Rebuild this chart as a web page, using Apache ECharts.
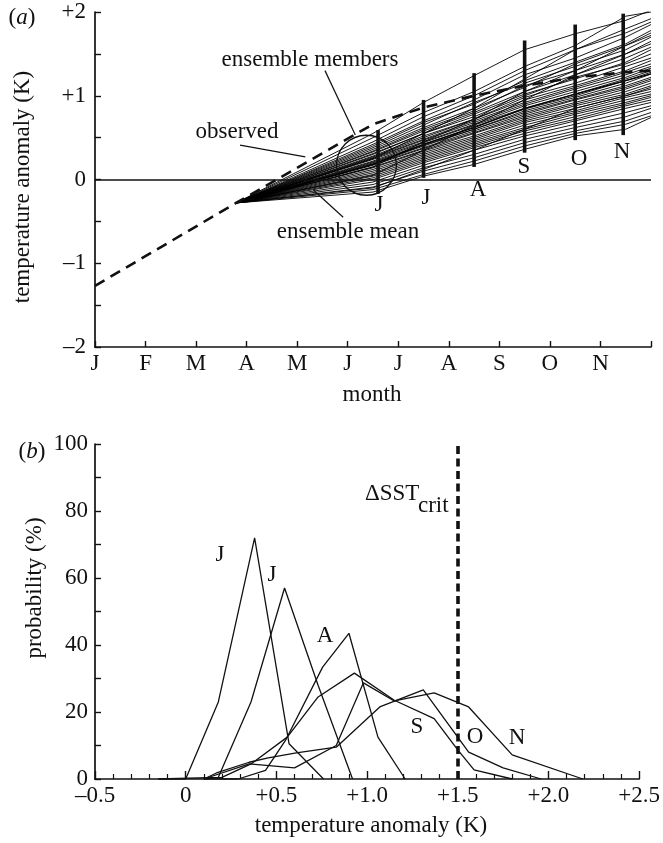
<!DOCTYPE html>
<html>
<head>
<meta charset="utf-8">
<script src="https://cdn.jsdelivr.net/npm/echarts@6/dist/echarts.min.js"></script>
<style>
  html, body { margin: 0; padding: 0; background: #fff; }
  #chart { width: 663px; height: 843px; }
</style>
</head>
<body>
<div id="chart"></div>
<script>
// ---------- panel (a): seasonal forecast plume ----------
const MONTHS = ['J', 'F', 'M', 'A', 'M', 'J', 'J', 'A', 'S', 'O', 'N'];

// observed anomaly (K), x = month index (0 = start of January)
const OBSERVED = [[0, -1.27], [2.79, -0.28], [5.5, 0.66], [6.5, 0.86], [7.5, 1.0],
                  [8.5, 1.12], [9.5, 1.22], [10.5, 1.28], [11, 1.3]];

// forecast initialisation point and the months at which members are stored
const FORECAST_START = [2.79, -0.28];
const FORECAST_MONTHS = [5.5, 6.5, 7.5, 8.5, 9.5, 10.5, 11];

// ensemble members: anomaly at each of FORECAST_MONTHS
const MEMBERS = [
  [0.55, 0.92, 1.24, 1.55, 1.74, 1.90, 2.02],
  [0.50, 0.80, 1.05, 1.35, 1.60, 1.95, 2.00],
  [0.45, 0.75, 1.00, 1.30, 1.55, 1.80, 1.92],
  [0.42, 0.70, 0.95, 1.25, 1.45, 1.70, 1.85],
  [0.40, 0.68, 0.90, 1.18, 1.40, 1.62, 1.78],
  [0.38, 0.65, 0.92, 1.15, 1.35, 1.55, 1.70],
  [0.36, 0.62, 0.85, 1.10, 1.38, 1.60, 1.72],
  [0.34, 0.60, 0.82, 1.12, 1.30, 1.50, 1.62],
  [0.33, 0.58, 0.80, 1.05, 1.25, 1.45, 1.58],
  [0.31, 0.55, 0.78, 1.02, 1.20, 1.40, 1.55],
  [0.30, 0.55, 0.75, 1.00, 1.22, 1.38, 1.50],
  [0.28, 0.52, 0.72, 0.98, 1.15, 1.35, 1.45],
  [0.27, 0.50, 0.72, 0.95, 1.12, 1.30, 1.42],
  [0.26, 0.48, 0.70, 0.92, 1.10, 1.28, 1.38],
  [0.25, 0.47, 0.68, 0.90, 1.08, 1.25, 1.35],
  [0.24, 0.45, 0.66, 0.88, 1.05, 1.22, 1.33],
  [0.22, 0.44, 0.65, 0.85, 1.02, 1.20, 1.30],
  [0.21, 0.42, 0.63, 0.84, 1.00, 1.18, 1.28],
  [0.20, 0.41, 0.60, 0.82, 0.98, 1.15, 1.26],
  [0.19, 0.40, 0.60, 0.80, 0.96, 1.12, 1.22],
  [0.18, 0.38, 0.58, 0.78, 0.95, 1.10, 1.20],
  [0.17, 0.37, 0.56, 0.76, 0.92, 1.08, 1.18],
  [0.15, 0.35, 0.55, 0.74, 0.90, 1.05, 1.15],
  [0.14, 0.34, 0.52, 0.72, 0.88, 1.02, 1.12],
  [0.12, 0.32, 0.50, 0.70, 0.85, 1.00, 1.10],
  [0.10, 0.30, 0.48, 0.68, 0.82, 0.98, 1.05],
  [0.08, 0.28, 0.46, 0.65, 0.80, 0.95, 1.02],
  [0.06, 0.26, 0.44, 0.62, 0.78, 0.92, 1.00],
  [0.04, 0.24, 0.42, 0.60, 0.75, 0.90, 0.98],
  [0.02, 0.22, 0.40, 0.58, 0.72, 0.88, 0.95],
  [0.00, 0.20, 0.38, 0.55, 0.70, 0.85, 0.92],
  [-0.03, 0.17, 0.35, 0.52, 0.66, 0.80, 0.88],
  [-0.06, 0.14, 0.30, 0.48, 0.62, 0.75, 0.85],
  [-0.09, 0.10, 0.26, 0.44, 0.58, 0.70, 0.80],
  [-0.12, 0.06, 0.22, 0.40, 0.55, 0.66, 0.76],
  [-0.15, 0.04, 0.18, 0.36, 0.52, 0.60, 0.74],
  [-0.10, 0.12, 0.35, 0.60, 0.85, 1.00, 1.08],
  [0.05, 0.35, 0.65, 0.95, 1.25, 1.50, 1.65],
  [0.25, 0.55, 0.85, 1.20, 1.55, 1.75, 1.88],
  [0.15, 0.45, 0.72, 1.05, 1.30, 1.60, 1.75]
];

const ENSEMBLE_MEAN = [0.18, 0.42, 0.62, 0.85, 1.02, 1.18, 1.26];

// spread of the ensemble for each target month
const RANGE_POS = [5.6, 6.5, 7.5, 8.5, 9.5, 10.45];
const RANGE_LOW = [-0.17, 0.02, 0.15, 0.32, 0.47, 0.53];
const RANGE_HIGH = [0.59, 0.95, 1.27, 1.66, 1.85, 1.98];
const RANGE_LABELS = ['J', 'J', 'A', 'S', 'O', 'N'];

// highlighted June cluster
const JUNE_CIRCLE = [5.37, 0.17];

// ---------- panel (b): forecast probability distributions ----------
// [anomaly (K), probability (%)]
const PDF_JUN = [[-0.15, 0], [0, 0], [0.18, 23], [0.38, 72], [0.57, 10.5], [0.76, 0]];
const PDF_JUL = [[-0.15, 0], [0.18, 0.5], [0.36, 23], [0.545, 57], [0.73, 28], [0.92, 0]];
const PDF_AUG = [[0.1, 0], [0.29, 0], [0.44, 2.6], [0.55, 11.5], [0.755, 33.4], [0.9, 43.5],
                 [1.06, 12.5], [1.21, 0]];
const PDF_SEP = [[0.1, 0], [0.2, 0.5], [0.36, 4.5], [0.56, 12.5], [0.73, 24.5], [0.93, 31.6],
                 [1.15, 23.5], [1.37, 18], [1.5, 8.7], [1.59, 2.7], [1.8, 0]];
const PDF_OCT = [[0.1, 0], [0.17, 1.8], [0.35, 5], [0.455, 6.3], [0.61, 7.8], [0.83, 9.5],
                 [1.07, 21.5], [1.31, 26.6], [1.56, 8], [1.75, 3.3], [1.96, 0]];
const PDF_NOV = [[0.1, 0], [0.35, 4.5], [0.6, 3.3], [0.83, 10], [0.98, 28.7], [1.15, 23.3],
                 [1.37, 25.7], [1.56, 21.5], [1.8, 7.2], [2.19, 0]];
const SST_CRIT = 1.5;

const INK = '#111';
const SERIF = "'Liberation Serif', 'Times New Roman', serif";
const FS = 23;

function memberLine(vals) {
  return [FORECAST_START].concat(FORECAST_MONTHS.map((m, i) => [m, vals[i]]));
}

function fmtSigned(v, digits) {
  const s = digits ? Math.abs(v).toFixed(digits) : String(Math.abs(v));
  if (Math.abs(v) < 1e-9) return '0';
  return (v > 0 ? '+' : '\u2013') + s;
}

const axisText = { color: INK, fontFamily: SERIF, fontSize: FS };
const axisLine = { onZero: false, lineStyle: { color: INK, width: 1.7 } };

const series = [];

// ensemble members
MEMBERS.forEach((m, i) => {
  series.push({
    name: 'member ' + (i + 1), type: 'line', xAxisIndex: 0, yAxisIndex: 0,
    data: memberLine(m), symbol: 'none', silent: true,
    lineStyle: { color: '#000', width: 0.9 }, z: 2
  });
});

// ensemble mean
series.push({
  name: 'ensemble mean', type: 'line', xAxisIndex: 0, yAxisIndex: 0,
  data: memberLine(ENSEMBLE_MEAN), symbol: 'none', silent: true,
  lineStyle: { color: '#000', width: 1.3 }, z: 3
});

// observed anomaly, zero line and annotation leaders
series.push({
  name: 'observed', type: 'line', xAxisIndex: 0, yAxisIndex: 0,
  data: OBSERVED, symbol: 'none', silent: true,
  lineStyle: { color: INK, width: 2.6, type: [11, 7] }, z: 4,
  markLine: {
    silent: true, symbol: 'none', label: { show: false },
    lineStyle: { color: INK, width: 1.7, type: 'solid' },
    data: [
      [{ coord: [0, 0] }, { coord: [11, 0] }],
      [{ coord: [4.55, 1.30], lineStyle: { width: 1.2 } }, { coord: [5.15, 0.53] }],
      [{ coord: [2.87, 0.41], lineStyle: { width: 1.2 } }, { coord: [4.16, 0.27] }],
      [{ coord: [4.32, -0.125], lineStyle: { width: 1.2 } }, { coord: [4.91, -0.45] }]
    ]
  }
});

// monthly ensemble spread bars
series.push({
  name: 'spread', type: 'custom', xAxisIndex: 0, yAxisIndex: 0, silent: true, z: 5,
  data: RANGE_POS.map((x, i) => [x, RANGE_LOW[i], RANGE_HIGH[i]]),
  encode: { x: 0, y: [1, 2] },
  renderItem: function (params, api) {
    const p1 = api.coord([api.value(0), api.value(1)]);
    const p2 = api.coord([api.value(0), api.value(2)]);
    return { type: 'line', shape: { x1: p1[0], y1: p1[1], x2: p2[0], y2: p2[1] },
             style: { stroke: INK, lineWidth: 3.6 } };
  }
});

// circle around the June cluster
series.push({
  name: 'June cluster', type: 'custom', xAxisIndex: 0, yAxisIndex: 0, silent: true, z: 6,
  data: [JUNE_CIRCLE],
  renderItem: function (params, api) {
    const c = api.coord([api.value(0), api.value(1)]);
    return { type: 'circle', shape: { cx: c[0], cy: c[1], r: 30 },
             style: { fill: 'none', stroke: INK, lineWidth: 1.3 } };
  }
});

// probability distributions
[PDF_JUN, PDF_JUL, PDF_AUG, PDF_SEP, PDF_OCT, PDF_NOV].forEach((d, i) => {
  series.push({
    name: 'pdf ' + RANGE_LABELS[i] + i, type: 'line', xAxisIndex: 1, yAxisIndex: 1,
    data: d, symbol: 'none', silent: true,
    lineStyle: { color: INK, width: 1.3 }, z: 2
  });
});

// critical SST threshold
series.push({
  name: 'threshold', type: 'line', xAxisIndex: 1, yAxisIndex: 1, data: [], silent: true,
  markLine: {
    silent: true, symbol: 'none', label: { show: false },
    lineStyle: { color: INK, width: 3.6, type: [8, 4.5] },
    data: [[{ coord: [SST_CRIT, 0] }, { coord: [SST_CRIT, 100] }]]
  }
});

function txt(text, x, y, extra) {
  return Object.assign({
    type: 'text', x: x, y: y, silent: true,
    style: Object.assign({ text: text, fill: INK, fontFamily: SERIF, fontSize: FS,
                           align: 'center', verticalAlign: 'middle',
                           textAlign: 'center', textVerticalAlign: 'middle' }, extra || {})
  });
}

const panelLabelRich = {
  p: { fontFamily: SERIF, fontSize: FS, fill: INK, color: INK },
  i: { fontFamily: SERIF, fontSize: FS, fontStyle: 'italic', fill: INK, color: INK }
};

const graphics = [
  txt('{p|(}{i|a}{p|)}', 22, 18, { rich: panelLabelRich }),
  txt('{p|(}{i|b}{p|)}', 32, 452, { rich: panelLabelRich }),
  Object.assign(txt('temperature anomaly (K)', 22.5, 187), { rotation: Math.PI / 2 }),
  txt('month', 372, 395),
  Object.assign(txt('probability (%)', 35, 588), { rotation: Math.PI / 2 }),
  txt('temperature anomaly (K)', 371, 826),
  txt('ensemble members', 310, 60),
  txt('observed', 237, 132),
  txt('ensemble mean', 348, 232),
  txt('J', 379, 205), txt('J', 426, 198), txt('A', 478, 190),
  txt('S', 524, 167), txt('O', 579, 159), txt('N', 622, 152),
  txt('J', 220, 555), txt('J', 272, 575), txt('A', 325, 636),
  txt('S', 417, 727), txt('O', 475, 737), txt('N', 517, 738),
  txt('\u0394SST', 365, 494, { align: 'left', textAlign: 'left' }),
  txt('crit', 418, 506, { align: 'left', textAlign: 'left' })
];

const chart = echarts.init(document.getElementById('chart'), null, { renderer: 'canvas' });
chart.setOption({
  animation: false,
  backgroundColor: '#fff',
  grid: [
    { left: 95, right: 12, top: 12, height: 335 },
    { left: 95, right: 20, top: 444, height: 335 }
  ],
  xAxis: [
    {
      type: 'value', gridIndex: 0, min: 0, max: 11, interval: 1,
      axisLine: axisLine, splitLine: { show: false },
      axisTick: { inside: true, length: 6, lineStyle: { color: INK, width: 1.4 } },
      axisLabel: Object.assign({ margin: 5, formatter: v => MONTHS[v] || '' }, axisText)
    },
    {
      type: 'value', gridIndex: 1, min: -0.5, max: 2.5, interval: 0.5,
      axisLine: axisLine, splitLine: { show: false },
      axisTick: { inside: true, length: 8, lineStyle: { color: INK, width: 1.4 } },
      minorTick: { show: true, splitNumber: 5, length: 5, lineStyle: { color: INK, width: 1.2 } },
      axisLabel: Object.assign({ margin: 5, formatter: v => fmtSigned(v, 1) }, axisText)
    }
  ],
  yAxis: [
    {
      type: 'value', gridIndex: 0, min: -2, max: 2, interval: 1,
      axisLine: axisLine, splitLine: { show: false },
      axisTick: { inside: true, length: 6, lineStyle: { color: INK, width: 1.4 } },
      minorTick: { show: true, splitNumber: 2, length: 6, lineStyle: { color: INK, width: 1.4 } },
      axisLabel: Object.assign({ margin: 9, formatter: v => fmtSigned(v, 0) }, axisText)
    },
    {
      type: 'value', gridIndex: 1, min: 0, max: 100, interval: 20,
      axisLine: axisLine, splitLine: { show: false },
      axisTick: { inside: true, length: 6, lineStyle: { color: INK, width: 1.4 } },
      minorTick: { show: true, splitNumber: 2, length: 6, lineStyle: { color: INK, width: 1.4 } },
      axisLabel: Object.assign({ margin: 7 }, axisText)
    }
  ],
  series: series,
  graphic: graphics
});
</script>
</body>
</html>
